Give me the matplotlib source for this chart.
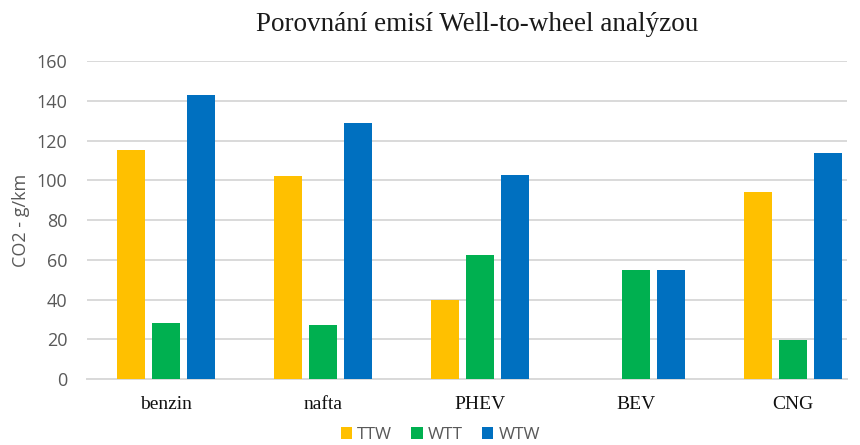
import numpy as np
import matplotlib
matplotlib.use("Agg")
import matplotlib.pyplot as plt

# Data
categories = ["benzin", "nafta", "PHEV", "BEV", "CNG"]
ttw = [115, 102, 40, 0, 94]
wtt = [28, 27, 62.5, 55, 19.5]
wtw = [143, 129, 102.5, 55, 113.5]
series_names = ["TTW", "WTT", "WTW"]
colors = ["#FFC000", "#00B050", "#0070C0"]

fig = plt.figure(figsize=(8.6, 4.45), dpi=100)
ax = fig.add_axes([0.101, 0.148, 0.884, 0.715])

x = np.arange(len(categories))
w = 0.179
pitch = 0.2235
for i, (vals, name, c) in enumerate(zip([ttw, wtt, wtw], series_names, colors)):
    ax.bar(x + (i - 1) * pitch, vals, w, color=c, label=name, zorder=3)

ax.set_xlim(-0.508, 4.345)
ax.set_ylim(0, 160)
ax.set_yticks(range(0, 161, 20))
ax.grid(axis="y", color="#d9d9d9", linewidth=1.4, zorder=0)
for s in ["top", "right", "left"]:
    ax.spines[s].set_visible(False)
ax.spines["bottom"].set_color("#d9d9d9")
ax.spines["bottom"].set_linewidth(1.4)
ax.tick_params(axis="both", length=0)
ax.tick_params(axis="y", labelsize=13, labelcolor="#595959", pad=14)
for lbl in ax.get_yticklabels():
    lbl.set_family("Open Sans")

ax.set_xticks(x)
ax.set_xticklabels(categories, family="Liberation Serif", fontsize=14, color="#111111")
ax.tick_params(axis="x", pad=12)

ax.set_ylabel("CO2 - g/km", family="Open Sans", fontsize=13, color="#595959", labelpad=5)

fig.text(0.555, 0.945, "Porovnání emisí Well-to-wheel analýzou", ha="center", va="center",
         family="Liberation Serif", fontsize=19.5, color="#1a1a1a")

leg = fig.legend(loc="center", bbox_to_anchor=(0.512, 0.022), ncol=3, frameon=False,
                 prop={"family": "Open Sans", "size": 12.5}, handlelength=0.65, handleheight=0.65,
                 handletextpad=0.3, columnspacing=1.1)
for t in leg.get_texts():
    t.set_color("#595959")

fig.savefig("out.png", dpi=100)
